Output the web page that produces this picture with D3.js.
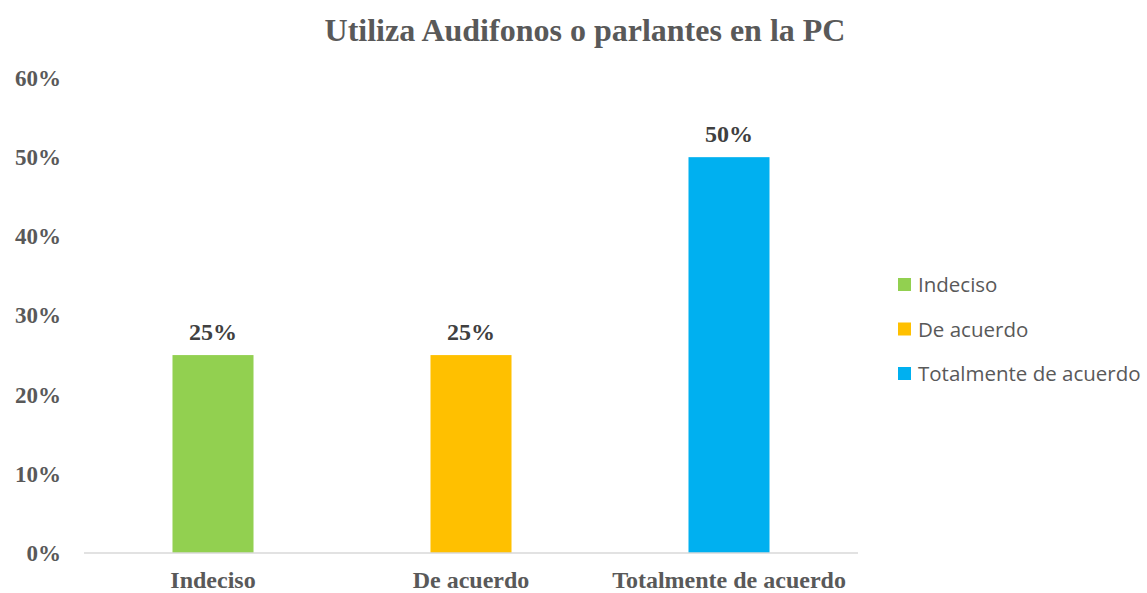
<!DOCTYPE html>
<html>
<head>
  <meta charset="utf-8">
  <script src="https://d3js.org/d3.v7.min.js"></script>
  <style>
    body { margin: 0; background: #fff; }
  </style>
</head>
<body>
<div id="chart"></div>
<script>
  // data
  const categories = ["Indeciso", "De acuerdo", "Totalmente de acuerdo"];
  const values = [0.25, 0.25, 0.50];
  const colors = ["#92d050", "#ffc000", "#00b0f0"];
  const yTicks = [0, 0.1, 0.2, 0.3, 0.4, 0.5, 0.6];

  const width = 1147, height = 593;
  const plot = { left: 84, right: 858, top: 78, bottom: 553 };

  const svg = d3.select("#chart").append("svg")
    .attr("width", width)
    .attr("height", height);

  const x = d3.scaleBand()
    .domain(categories)
    .range([plot.left, plot.right])
    .paddingInner(0.686)
    .paddingOuter(0.343);

  const y = d3.scaleLinear()
    .domain([0, 0.6])
    .range([plot.bottom, plot.top]);

  // title
  svg.append("text")
    .attr("x", 585)
    .attr("y", 41)
    .attr("text-anchor", "middle")
    .attr("font-family", "Liberation Serif, Times New Roman, serif")
    .attr("font-weight", "bold")
    .attr("font-size", 32)
    .attr("fill", "#595959")
    .text("Utiliza Audifonos o parlantes en la PC");

  // y tick labels (no axis line)
  const yAxis = svg.append("g")
    .attr("transform", "translate(" + (plot.left - 20) + ",0)")
    .call(d3.axisLeft(y).tickValues(yTicks).tickFormat(d3.format(".0%")).tickSize(0));
  yAxis.select(".domain").remove();
  yAxis.selectAll("text")
    .attr("font-family", "Liberation Serif, Times New Roman, serif")
    .attr("font-weight", "bold")
    .attr("font-size", 23)
    .attr("fill", "#595959");

  // bars
  svg.selectAll("rect.bar")
    .data(values)
    .enter().append("rect")
    .attr("class", "bar")
    .attr("x", (d, i) => x(categories[i]))
    .attr("y", d => y(d))
    .attr("width", x.bandwidth())
    .attr("height", d => y(0) - y(d))
    .attr("fill", (d, i) => colors[i]);

  // baseline
  svg.append("line")
    .attr("x1", plot.left).attr("x2", plot.right)
    .attr("y1", y(0)).attr("y2", y(0))
    .attr("stroke", "#d9d9d9")
    .attr("stroke-width", 1.5);

  // x labels
  const xAxis = svg.append("g")
    .attr("transform", "translate(0," + (plot.bottom + 7) + ")")
    .call(d3.axisBottom(x).tickSize(0));
  xAxis.select(".domain").remove();
  xAxis.selectAll("text")
    .attr("dy", "1.05em")
    .attr("font-family", "Liberation Serif, Times New Roman, serif")
    .attr("font-weight", "bold")
    .attr("font-size", 24)
    .attr("fill", "#595959");

  // value labels
  svg.selectAll("text.val")
    .data(values)
    .enter().append("text")
    .attr("class", "val")
    .attr("x", (d, i) => x(categories[i]) + x.bandwidth() / 2)
    .attr("y", d => y(d) - 15)
    .attr("text-anchor", "middle")
    .attr("font-family", "Liberation Serif, Times New Roman, serif")
    .attr("font-weight", "bold")
    .attr("font-size", 24)
    .attr("fill", "#404040")
    .text(d3.format(".0%"));

  // legend
  const legend = svg.selectAll("g.leg")
    .data(categories)
    .enter().append("g")
    .attr("class", "leg")
    .attr("transform", (d, i) => "translate(898," + (278 + i * 44.5) + ")");
  legend.append("rect")
    .attr("width", 13).attr("height", 13)
    .attr("fill", (d, i) => colors[i]);
  legend.append("text")
    .attr("x", 20)
    .attr("y", 14)
    .attr("font-family", "Open Sans, Noto Sans, sans-serif")
    .attr("font-size", 20.5)
    .attr("fill", "#595959")
    .text(d => d);
</script>
</body>
</html>
